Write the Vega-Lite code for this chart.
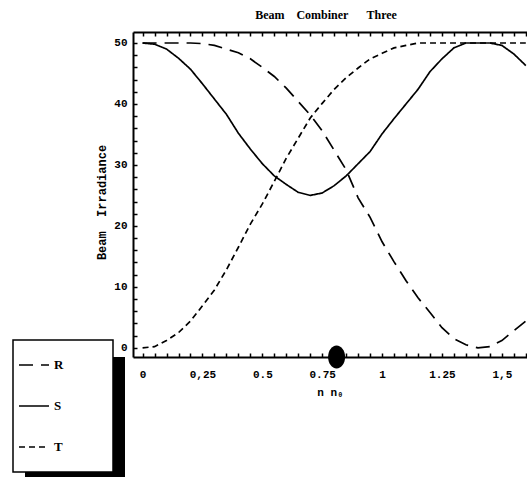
{
  "$schema": "https://vega.github.io/schema/vega-lite/v6.json",
  "width": 394,
  "height": 325,
  "autosize": {"type": "none"},
  "padding": {"left": 133, "top": 32, "right": 0, "bottom": 130},
  "background": "white",
  "title": {
    "text": "Beam\u00a0\u00a0\u00a0\u00a0Combiner\u00a0\u00a0\u00a0\u00a0\u00a0\u00a0Three",
    "font": "Liberation Serif",
    "fontSize": 12,
    "fontWeight": "bold",
    "color": "black",
    "anchor": "middle",
    "frame": "group",
    "dx": -4,
    "offset": 0,
    "baseline": "alphabetic"
  },
  "config": {
    "view": {"stroke": null},
    "axis": {
      "grid": false,
      "ticks": true,
      "domainColor": "black",
      "domainWidth": 2,
      "tickColor": "black",
      "tickWidth": 1.5,
      "labelColor": "black",
      "labelFont": "Liberation Mono",
      "labelFontSize": 11,
      "labelFontWeight": "bold",
      "labelFlush": false,
      "labelOverlap": false,
      "labelBound": false,
      "titleColor": "black"
    }
  },
  "datasets": {
    "curves": [
      {"x": 0, "y": 50, "series": "S"}, {"x": 0.05, "y": 49.8, "series": "S"}, {"x": 0.1, "y": 49.0, "series": "S"},
      {"x": 0.15, "y": 47.5, "series": "S"}, {"x": 0.2, "y": 45.7, "series": "S"}, {"x": 0.25, "y": 43.3, "series": "S"},
      {"x": 0.3, "y": 40.8, "series": "S"}, {"x": 0.35, "y": 38.3, "series": "S"}, {"x": 0.4, "y": 35.2, "series": "S"},
      {"x": 0.45, "y": 32.6, "series": "S"}, {"x": 0.5, "y": 30.2, "series": "S"}, {"x": 0.55, "y": 28.2, "series": "S"},
      {"x": 0.6, "y": 26.8, "series": "S"}, {"x": 0.65, "y": 25.5, "series": "S"}, {"x": 0.7, "y": 25.0, "series": "S"},
      {"x": 0.75, "y": 25.4, "series": "S"}, {"x": 0.8, "y": 26.6, "series": "S"}, {"x": 0.85, "y": 28.2, "series": "S"},
      {"x": 0.9, "y": 30.2, "series": "S"}, {"x": 0.95, "y": 32.2, "series": "S"}, {"x": 1.0, "y": 35.1, "series": "S"},
      {"x": 1.05, "y": 37.6, "series": "S"}, {"x": 1.1, "y": 40.0, "series": "S"}, {"x": 1.15, "y": 42.4, "series": "S"},
      {"x": 1.2, "y": 45.3, "series": "S"}, {"x": 1.25, "y": 47.4, "series": "S"}, {"x": 1.3, "y": 49.2, "series": "S"},
      {"x": 1.35, "y": 50, "series": "S"}, {"x": 1.4, "y": 50, "series": "S"}, {"x": 1.45, "y": 50, "series": "S"},
      {"x": 1.5, "y": 49.6, "series": "S"}, {"x": 1.55, "y": 48.2, "series": "S"}, {"x": 1.6, "y": 46.3, "series": "S"},

      {"x": 0, "y": 50, "series": "R"}, {"x": 0.05, "y": 50, "series": "R"}, {"x": 0.1, "y": 50, "series": "R"},
      {"x": 0.15, "y": 50, "series": "R"}, {"x": 0.2, "y": 50, "series": "R"}, {"x": 0.25, "y": 49.9, "series": "R"},
      {"x": 0.3, "y": 49.6, "series": "R"}, {"x": 0.35, "y": 49.0, "series": "R"}, {"x": 0.4, "y": 48.4, "series": "R"},
      {"x": 0.45, "y": 47.4, "series": "R"}, {"x": 0.5, "y": 46.0, "series": "R"}, {"x": 0.55, "y": 44.5, "series": "R"},
      {"x": 0.6, "y": 42.6, "series": "R"}, {"x": 0.65, "y": 40.4, "series": "R"}, {"x": 0.7, "y": 38.2, "series": "R"},
      {"x": 0.75, "y": 35.6, "series": "R"}, {"x": 0.8, "y": 32.4, "series": "R"}, {"x": 0.85, "y": 29.2, "series": "R"},
      {"x": 0.9, "y": 24.6, "series": "R"}, {"x": 0.95, "y": 21.4, "series": "R"}, {"x": 1.0, "y": 17.4, "series": "R"},
      {"x": 1.05, "y": 14.1, "series": "R"}, {"x": 1.1, "y": 11.0, "series": "R"}, {"x": 1.15, "y": 8.2, "series": "R"},
      {"x": 1.2, "y": 5.8, "series": "R"}, {"x": 1.25, "y": 3.3, "series": "R"}, {"x": 1.3, "y": 1.5, "series": "R"},
      {"x": 1.35, "y": 0.5, "series": "R"}, {"x": 1.4, "y": 0, "series": "R"}, {"x": 1.45, "y": 0.2, "series": "R"},
      {"x": 1.5, "y": 1.2, "series": "R"}, {"x": 1.55, "y": 2.8, "series": "R"}, {"x": 1.6, "y": 4.4, "series": "R"},

      {"x": 0, "y": 0, "series": "T"}, {"x": 0.05, "y": 0.2, "series": "T"}, {"x": 0.1, "y": 1.2, "series": "T"},
      {"x": 0.15, "y": 2.5, "series": "T"}, {"x": 0.2, "y": 4.4, "series": "T"}, {"x": 0.25, "y": 6.9, "series": "T"},
      {"x": 0.3, "y": 9.5, "series": "T"}, {"x": 0.35, "y": 12.8, "series": "T"}, {"x": 0.4, "y": 16.5, "series": "T"},
      {"x": 0.45, "y": 20.3, "series": "T"}, {"x": 0.5, "y": 23.6, "series": "T"}, {"x": 0.55, "y": 27.3, "series": "T"},
      {"x": 0.6, "y": 31.1, "series": "T"}, {"x": 0.65, "y": 34.4, "series": "T"}, {"x": 0.7, "y": 37.7, "series": "T"},
      {"x": 0.75, "y": 40.1, "series": "T"}, {"x": 0.8, "y": 42.4, "series": "T"}, {"x": 0.85, "y": 44.3, "series": "T"},
      {"x": 0.9, "y": 45.9, "series": "T"}, {"x": 0.95, "y": 47.4, "series": "T"}, {"x": 1.0, "y": 48.3, "series": "T"},
      {"x": 1.05, "y": 49.2, "series": "T"}, {"x": 1.1, "y": 49.6, "series": "T"}, {"x": 1.15, "y": 50, "series": "T"},
      {"x": 1.2, "y": 50, "series": "T"}, {"x": 1.25, "y": 50, "series": "T"}, {"x": 1.3, "y": 50, "series": "T"},
      {"x": 1.35, "y": 50, "series": "T"}, {"x": 1.4, "y": 50, "series": "T"}, {"x": 1.45, "y": 50, "series": "T"},
      {"x": 1.5, "y": 50, "series": "T"}, {"x": 1.55, "y": 50, "series": "T"}, {"x": 1.6, "y": 50, "series": "T"}
    ],
    "blob": [{"x": 0.81, "y": -1.5, "k": 1, "k2": 5}]
  },
  "layer": [
    {
      "data": {"name": "curves"},
      "mark": {"type": "line", "clip": true, "strokeWidth": 1.7, "color": "black"},
      "encoding": {
        "x": {
          "field": "x", "type": "quantitative",
          "scale": {"domain": [-0.04, 1.605], "nice": false, "zero": false},
          "axis": {
            "orient": "bottom",
            "values": [0,0.05,0.1,0.15,0.2,0.25,0.3,0.35,0.4,0.45,0.5,0.55,0.6,0.65,0.7,0.75,0.8,0.85,0.9,0.95,1,1.05,1.1,1.15,1.2,1.25,1.3,1.35,1.4,1.45,1.5,1.55,1.6],
            "labelExpr": "datum.value==0?'0':abs(datum.value-0.25)<0.001?'0,25':abs(datum.value-0.5)<0.001?'0.5':abs(datum.value-0.75)<0.001?'0.75':abs(datum.value-1)<0.001?'1':abs(datum.value-1.25)<0.001?'1.25':abs(datum.value-1.5)<0.001?'1,5':''",
            "labelOverlap": false,
            "ticks": true,
            "tickSize": -4,
            "labelPadding": 15,
            "title": "n  n₀",
            "titleFont": "Liberation Mono",
            "titleFontSize": 11,
            "titleFontWeight": "bold",
            "titleX": 197,
            "titleY": 38,
            "titleAlign": "center",
            "titleBaseline": "alphabetic"
          }
        },
        "y": {
          "field": "y", "type": "quantitative",
          "scale": {"domain": [-1.5, 51.8], "nice": false, "zero": false},
          "axis": {
            "values": [0,2,4,6,8,10,12,14,16,18,20,22,24,26,28,30,32,34,36,38,40,42,44,46,48,50],
            "labelExpr": "datum.value%10==0 ? datum.label : ''",
            "labelOverlap": false,
            "ticks": true,
            "tickSize": -4,
            "labelPadding": 10,
            "title": "Beam\u00a0\u00a0Irradiance",
            "titleFont": "Liberation Mono",
            "titleFontSize": 12,
            "titleFontWeight": "bold",
            "titleAngle": 270,
            "titleX": -32,
            "titleY": 170,
            "titleAlign": "center",
            "titleBaseline": "middle"
          }
        },
        "strokeDash": {
          "field": "series", "type": "nominal",
          "scale": {"domain": ["R", "S", "T"], "range": [[14, 8], [1, 0], [6, 4]]},
          "legend": {
            "title": null,
            "orient": "none",
            "legendX": -110,
            "legendY": 317,
            "direction": "vertical",
            "symbolType": "stroke",
            "symbolSize": 900,
            "symbolStrokeColor": "black",
            "symbolStrokeWidth": 1.5,
            "symbolOffset": -5,
            "labelFont": "Liberation Serif",
            "labelFontSize": 13,
            "labelFontWeight": "bold",
            "labelColor": "black",
            "labelOffset": 4,
            "rowPadding": 18,
            "padding": 0,
            "zindex": 3
          }
        }
      }
    },
    {
      "data": {"name": "blob"},
      "mark": {
        "type": "point",
        "shape": "M0,-1C0.41,-1 0.74,-0.55 0.74,0C0.74,0.55 0.41,1 0,1C-0.41,1 -0.74,0.55 -0.74,0C-0.74,-0.55 -0.41,-1 0,-1Z",
        "filled": true,
        "size": 529,
        "opacity": 1,
        "strokeWidth": 0,
        "clip": false
      },
      "encoding": {
        "x": {
          "field": "x", "type": "quantitative",
          "axis": {
            "orient": "top",
            "values": [0,0.05,0.1,0.15,0.2,0.25,0.3,0.35,0.4,0.45,0.5,0.55,0.6,0.65,0.7,0.75,0.8,0.85,0.9,0.95,1,1.05,1.1,1.15,1.2,1.25,1.3,1.35,1.4,1.45,1.5,1.55,1.6],
            "labels": false,
            "title": null,
            "ticks": true,
            "tickSize": -4
          }
        },
        "y": {"field": "y", "type": "quantitative", "axis": null},
        "fill": {
          "field": "k", "type": "quantitative",
          "scale": {"domain": [0, 2], "range": ["black", "black"]},
          "legend": {
            "title": null,
            "orient": "none",
            "legendX": -108,
            "legendY": 325,
            "type": "gradient",
            "direction": "vertical",
            "gradientLength": 120,
            "gradientThickness": 100,
            "gradientStrokeColor": "black",
            "gradientStrokeWidth": 0,
            "labelExpr": "''",
            "padding": 0,
            "zindex": 1
          }
        },
        "stroke": {
          "field": "k2", "type": "quantitative",
          "scale": {"domain": [3, 7], "range": ["white", "white"]},
          "legend": {
            "title": null,
            "orient": "none",
            "legendX": -120,
            "legendY": 308,
            "type": "gradient",
            "direction": "vertical",
            "gradientLength": 132,
            "gradientThickness": 100,
            "gradientStrokeColor": "black",
            "gradientStrokeWidth": 1.5,
            "labelExpr": "''",
            "padding": 0,
            "zindex": 2
          }
        }
      }
    }
  ],
  "resolve": {"axis": {"x": "independent", "y": "independent"}}
}
